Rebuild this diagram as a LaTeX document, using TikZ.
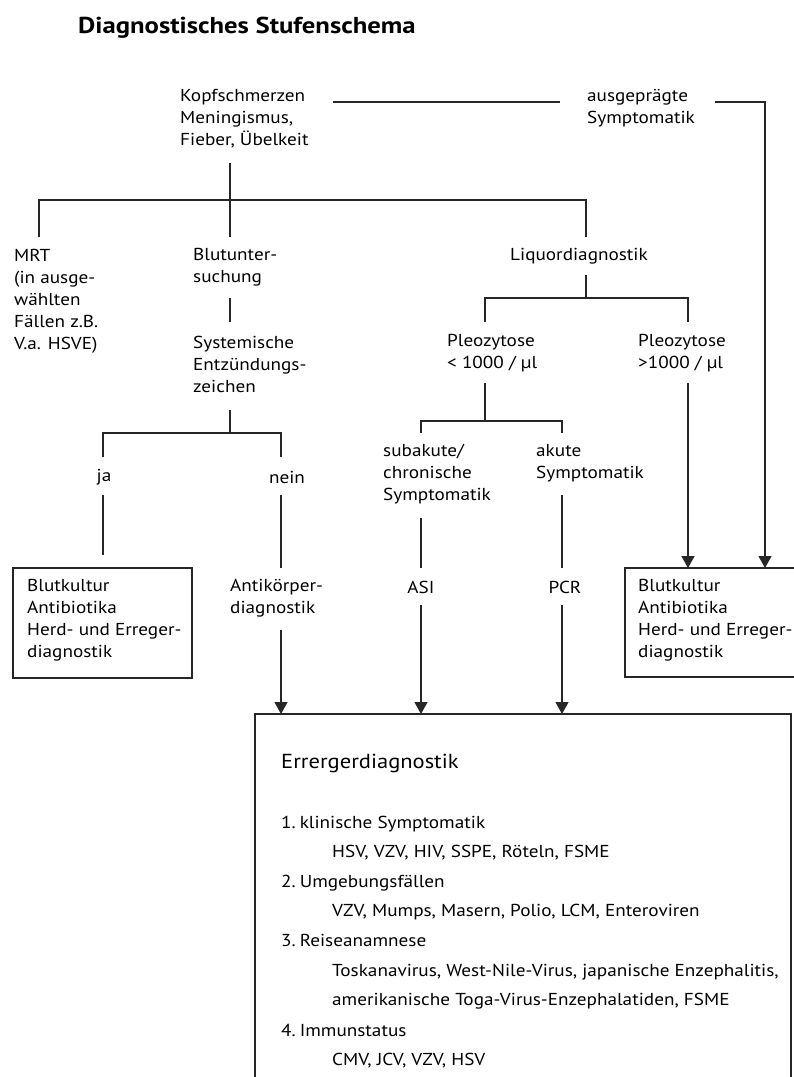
\documentclass[tikz,border=0pt]{standalone}
\usepackage{fontspec}
\setmainfont{PT Sans}[FakeStretch=1.11]
\newfontfamily\titlefont{PT Sans}[FakeStretch=1.16]
\usetikzlibrary{arrows.meta}
\begin{document}
\begin{tikzpicture}[x=1pt,y=-1pt,
  txt/.style={inner sep=0pt, anchor=west, align=left, font=\fontsize{17.3}{22}\selectfont},
  ctxt/.style={txt, anchor=center, align=center},
  ltxt/.style={inner sep=0pt, anchor=base west, font=\fontsize{17.3}{22}\selectfont},
  conn/.style={line width=1.2pt, draw=black!85},
  arr/.style={conn, -{Triangle[width=13pt,length=12pt]}},
  boxed/.style={line width=1.2pt, draw=black!85}]
\useasboundingbox (0,0) rectangle (794,1077);
\fill[white] (0,0) rectangle (794,1077);

\node[inner sep=0pt, anchor=base west, font=\titlefont\fontsize{23}{26}\selectfont\bfseries] (title) at (78,33) {Diagnostisches Stufenschema};

% boxes
\draw[boxed] (13,568) rectangle (192,678);
\draw[boxed] (625,568) rectangle (805,677);
\draw[boxed] (255,714) rectangle (791,1090);
\coordinate (rbA) at (688,568);
\coordinate (rbB) at (765,568);
\coordinate (ebA) at (281,714);
\coordinate (ebB) at (421,714);
\coordinate (ebC) at (562,714);

% text nodes
\node[txt] (kopf) at (180,119) {Kopfschmerzen\\Meningismus,\\Fieber, Übelkeit};
\node[txt] (ausg) at (587,108) {ausgeprägte\\Symptomatik};
\node[txt] (mrt) at (14,301) {MRT\\(in ausge-\\wählten\\Fällen z.B.\\V.a. HSVE)};
\node[txt] (blut) at (193,267) {Blutunter-\\suchung};
\node[txt] (liq) at (510,256) {Liquordiagnostik};
\node[txt] (sys) at (193,364) {Systemische\\Entzündungs-\\zeichen};
\node[txt] (pleoL) at (447,353) {Pleozytose\\< 1000 / µl};
\node[txt] (pleoR) at (638,353) {Pleozytose\\>1000 / µl};
\node[ctxt] (ja) at (104,477) {ja};
\node[ctxt] (nein) at (287,477) {nein};
\node[txt] (sub) at (383,474) {subakute/\\chronische\\Symptomatik};
\node[txt] (akut) at (536,463) {akute\\Symptomatik};
\node[txt] (bkL) at (27,620) {Blutkultur\\Antibiotika\\Herd- und Erreger-\\diagnostik};
\node[txt] (anti) at (230,598) {Antikörper-\\diagnostik};
\node[ctxt] (asi) at (421,587) {ASI};
\node[ctxt] (pcr) at (565,587) {PCR};
\node[txt] (bkR) at (638,620) {Blutkultur\\Antibiotika\\Herd- und Erreger-\\diagnostik};

\node[inner sep=0pt, anchor=base west, font=\fontsize{20.3}{24}\selectfont] (eh) at (281,768) {Errergerdiagnostik};
\node[ltxt] (i1) at (281,828) {1.\hspace{4pt}klinische Symptomatik};
\node[ltxt] (s1) at (332,857) {HSV, VZV, HIV, SSPE, Röteln, FSME};
\node[ltxt] (i2) at (281,887) {2.\hspace{4pt}Umgebungsfällen};
\node[ltxt] (s2) at (332,916) {VZV, Mumps, Masern, Polio, LCM, Enteroviren};
\node[ltxt] (i3) at (281,946) {3.\hspace{4pt}Reiseanamnese};
\node[ltxt] (s3a) at (332,976) {Toskanavirus, West-Nile-Virus, japanische Enzephalitis,};
\node[ltxt] (s3b) at (332,1005) {amerikanische Toga-Virus-Enzephalatiden, FSME};
\node[ltxt] (i4) at (281,1036) {4.\hspace{4pt}Immunstatus};
\node[ltxt] (s4) at (332,1065) {CMV, JCV, VZV, HSV};

% coordinates for connectors
\coordinate (k1) at (333,102);
\coordinate (k2) at (560,102);
\coordinate (a1) at (715,102);
\coordinate (a2) at (765,102);
\coordinate (kd) at (230,163);
\coordinate (bar1L) at (39,200);
\coordinate (bar1R) at (586,200);
\coordinate (mrtT) at (39,237);
\coordinate (blutT) at (230,237);
\coordinate (liqT) at (586,237);
\coordinate (blutB) at (230,298);
\coordinate (sysT) at (230,322);
\coordinate (sysB) at (230,410);
\coordinate (bar2M) at (230,433);
\coordinate (bar2L) at (103,433);
\coordinate (bar2R) at (281,433);
\coordinate (jaT) at (103,457);
\coordinate (neinT) at (281,457);
\coordinate (jaB) at (103,495);
\coordinate (jaE) at (103,555);
\coordinate (neinB) at (281,495);
\coordinate (antiT) at (281,568);
\coordinate (antiB) at (281,630);
\coordinate (liqB) at (586,275);
\coordinate (bar3M) at (586,298);
\coordinate (bar3L) at (485,298);
\coordinate (bar3R) at (688,298);
\coordinate (pLT) at (485,322);
\coordinate (pRT) at (688,322);
\coordinate (pLB) at (485,383);
\coordinate (pRB) at (688,383);
\coordinate (bar4M) at (485,421);
\coordinate (bar4L) at (421,421);
\coordinate (bar4R) at (562,421);
\coordinate (subT) at (421,433);
\coordinate (akT) at (562,433);
\coordinate (subB) at (421,518);
\coordinate (asiT) at (421,568);
\coordinate (akB) at (562,495);
\coordinate (pcrT) at (562,568);
\coordinate (asiB) at (421,605);
\coordinate (pcrB) at (562,605);

% connectors
\draw[conn] (k1) -- (k2);
\draw[arr] (a1) -- (a2) -- (rbB);
\draw[conn] (kd) -- (blutT);
\draw[conn] (mrtT) -- (bar1L) -- (bar1R) -- (liqT);
\draw[conn] (blutB) -- (sysT);
\draw[conn] (sysB) -- (bar2M);
\draw[conn] (jaT) -- (bar2L) -- (bar2R) -- (neinT);
\draw[conn] (jaB) -- (jaE);
\draw[conn] (neinB) -- (antiT);
\draw[arr] (antiB) -- (ebA);
\draw[conn] (liqB) -- (bar3M);
\draw[conn] (pLT) -- (bar3L) -- (bar3R) -- (pRT);
\draw[arr] (pRB) -- (rbA);
\draw[conn] (pLB) -- (bar4M);
\draw[conn] (subT) -- (bar4L) -- (bar4R) -- (akT);
\draw[conn] (subB) -- (asiT);
\draw[conn] (akB) -- (pcrT);
\draw[arr] (asiB) -- (ebB);
\draw[arr] (pcrB) -- (ebC);
\end{tikzpicture}
\end{document}
